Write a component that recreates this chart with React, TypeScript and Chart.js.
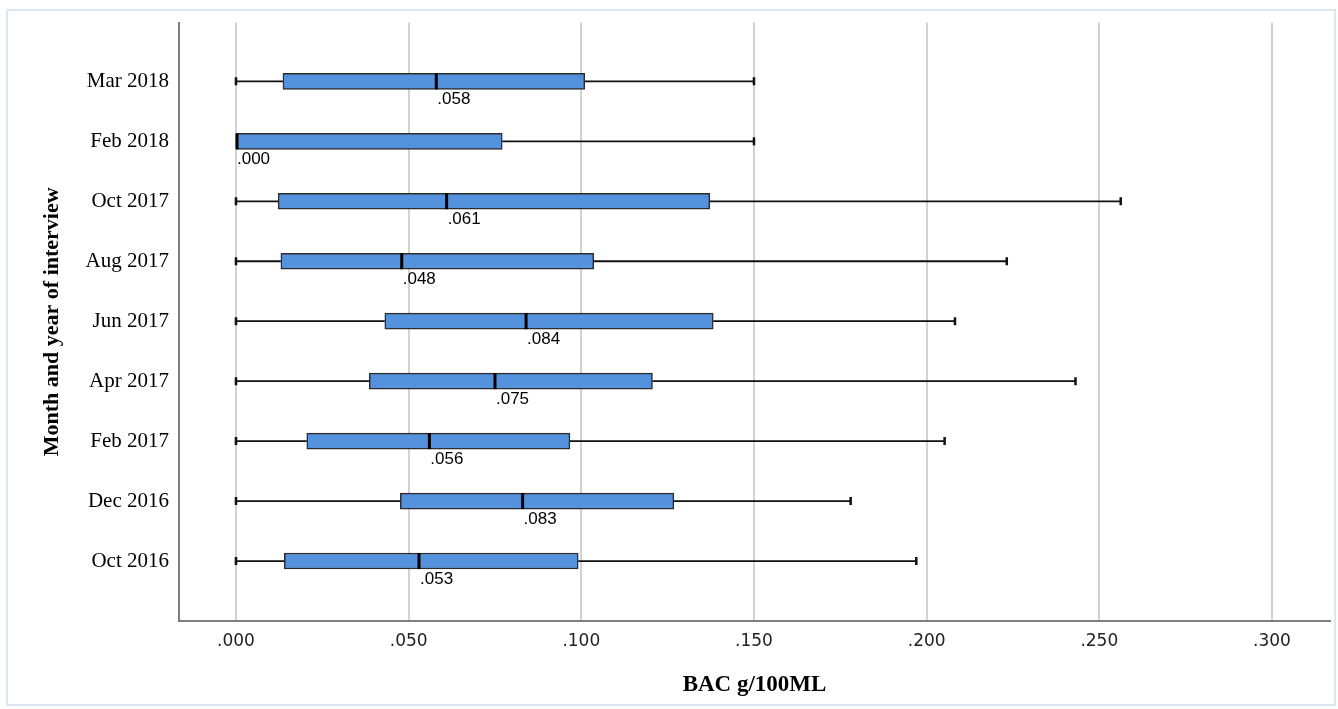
import React, { useEffect, useRef } from "react";
import { Chart, registerables } from "chart.js";

Chart.register(...registerables);

const categories = ["Mar 2018", "Feb 2018", "Oct 2017", "Aug 2017", "Jun 2017", "Apr 2017", "Feb 2017", "Dec 2016", "Oct 2016"];
const minValues = [0, 0, 0, 0, 0, 0, 0, 0, 0];
const q1Values = [0.0136, 0, 0.0122, 0.013, 0.0431, 0.0386, 0.0205, 0.0476, 0.014];
const medianValues = [0.058, 0.0, 0.061, 0.048, 0.084, 0.075, 0.056, 0.083, 0.053];
const q3Values = [0.101, 0.0771, 0.1372, 0.1036, 0.1382, 0.1206, 0.0967, 0.1268, 0.0991];
const maxValues = [0.15, 0.15, 0.2562, 0.2232, 0.2082, 0.2431, 0.2052, 0.178, 0.197];
const medianLabels = [".058", ".000", ".061", ".048", ".084", ".075", ".056", ".083", ".053"];

const X_MIN = -0.0165;
const X_MAX = 0.3168;
const BOX_THICKNESS = 16;

const boxPlotPlugin = {
  id: "boxPlotExtras",
  afterDatasetsDraw(chart: any) {
    const ctx = chart.ctx;
    const xs = chart.scales.x;
    const ys = chart.scales.y;
    ctx.save();
    categories.forEach((_, i) => {
      const y = ys.getPixelForValue(i + 1);
      const pMin = xs.getPixelForValue(minValues[i]);
      const pQ1 = xs.getPixelForValue(q1Values[i]);
      const pMed = xs.getPixelForValue(medianValues[i]);
      const pQ3 = xs.getPixelForValue(q3Values[i]);
      const pMax = xs.getPixelForValue(maxValues[i]);
      ctx.strokeStyle = "#111111";
      ctx.lineWidth = 1.8;
      ctx.beginPath();
      if (pQ1 - pMin > 0.5) {
        ctx.moveTo(pMin, y);
        ctx.lineTo(pQ1, y);
      }
      ctx.moveTo(pQ3, y);
      ctx.lineTo(pMax, y);
      ctx.stroke();
      // caps
      ctx.lineWidth = 2.5;
      ctx.beginPath();
      if (pQ1 - pMin > 0.5) {
        ctx.moveTo(pMin, y - 4);
        ctx.lineTo(pMin, y + 4);
      }
      ctx.moveTo(pMax, y - 4);
      ctx.lineTo(pMax, y + 4);
      ctx.stroke();
      // median
      ctx.lineWidth = 3;
      ctx.strokeStyle = "#000000";
      ctx.beginPath();
      ctx.moveTo(pMed + (i === 1 ? 1 : 0), y - BOX_THICKNESS / 2);
      ctx.lineTo(pMed + (i === 1 ? 1 : 0), y + BOX_THICKNESS / 2);
      ctx.stroke();
      // label
      ctx.fillStyle = "#000000";
      ctx.font = '17px "Liberation Sans"';
      ctx.textAlign = "left";
      ctx.textBaseline = "middle";
      ctx.fillText(medianLabels[i], pMed + 1, y + 18);
    });
    ctx.restore();
  },
};

export default function App() {
  const canvasRef = useRef<HTMLCanvasElement | null>(null);

  useEffect(() => {
    const canvas = canvasRef.current;
    if (!canvas) return;
    const chart = new Chart(canvas, {
      type: "bar",
      data: {
        datasets: [
          {
            label: "IQR",
            data: categories.map((_, i) => ({ x: [q1Values[i], q3Values[i]], y: i + 1 })) as any,
            backgroundColor: "#5592de",
            borderColor: "#2d2d2d",
            borderWidth: 1.5,
            borderSkipped: false,
            barThickness: BOX_THICKNESS,
          } as any,
        ],
      },
      options: {
        indexAxis: "y",
        responsive: false,
        animation: false,
        layout: { padding: { left: 36, top: 20, right: 8, bottom: 0 } },
        plugins: {
          legend: { display: false },
          tooltip: { enabled: false },
        },
        scales: {
          x: {
            type: "linear",
            min: X_MIN,
            max: X_MAX,
            afterFit: (scale: any) => {
              scale.height = 88;
            },
            ticks: {
              stepSize: 0.05,
              includeBounds: false,
              padding: 10,
              color: "#222222",
              font: { family: '"DejaVu Sans"', size: 17 },
              callback: (v: any) => Number(v).toFixed(3).replace(/^0/, ""),
            },
            grid: { display: true, color: "#d2d2d2", lineWidth: 2, drawTicks: false },
            border: { display: true, color: "#7f7f7f", width: 2 },
            title: {
              display: true,
              text: "BAC g/100ML",
              color: "#000000",
              font: { family: '"Liberation Serif"', size: 23, weight: "bold" },
              padding: { top: 4, bottom: 10.2 },
            },
          },
          y: {
            type: "linear",
            reverse: true,
            offset: false,
            min: 0.02,
            max: 10,
            afterFit: (scale: any) => {
              scale.width = 143;
            },
            ticks: {
              stepSize: 1,
              autoSkip: false,
              includeBounds: false,
              padding: 10,
              color: "#000000",
              font: { family: '"Liberation Serif"', size: 21 },
              callback: (v: any) => {
                const n = Math.round(Number(v));
                return n >= 1 && n <= categories.length ? categories[n - 1] : "";
              },
            },
            grid: { display: false, drawTicks: false, offset: false },
            border: { display: true, color: "#7f7f7f", width: 2 },
            title: {
              display: true,
              text: "Month and year of interview",
              color: "#000000",
              font: { family: '"Liberation Serif"', size: 22, weight: "bold" },
              padding: { top: 3, bottom: 4 },
            },
          },
        },
      } as any,
      plugins: [boxPlotPlugin],
    });
    return () => chart.destroy();
  }, []);

  return (
    <div style={{ position: "fixed", left: 0, top: 0, width: 1338, height: 709, background: "#ffffff" }}>
      <div
        style={{
          position: "absolute",
          left: 6,
          top: 9,
          width: 1330,
          height: 697,
          boxSizing: "border-box",
          border: "2px solid #dbe6f2",
        }}
      />
      <canvas
        ref={canvasRef}
        width={1338}
        height={709}
        style={{ position: "absolute", left: 0, top: 0, width: 1338, height: 709 }}
      />
    </div>
  );
}
